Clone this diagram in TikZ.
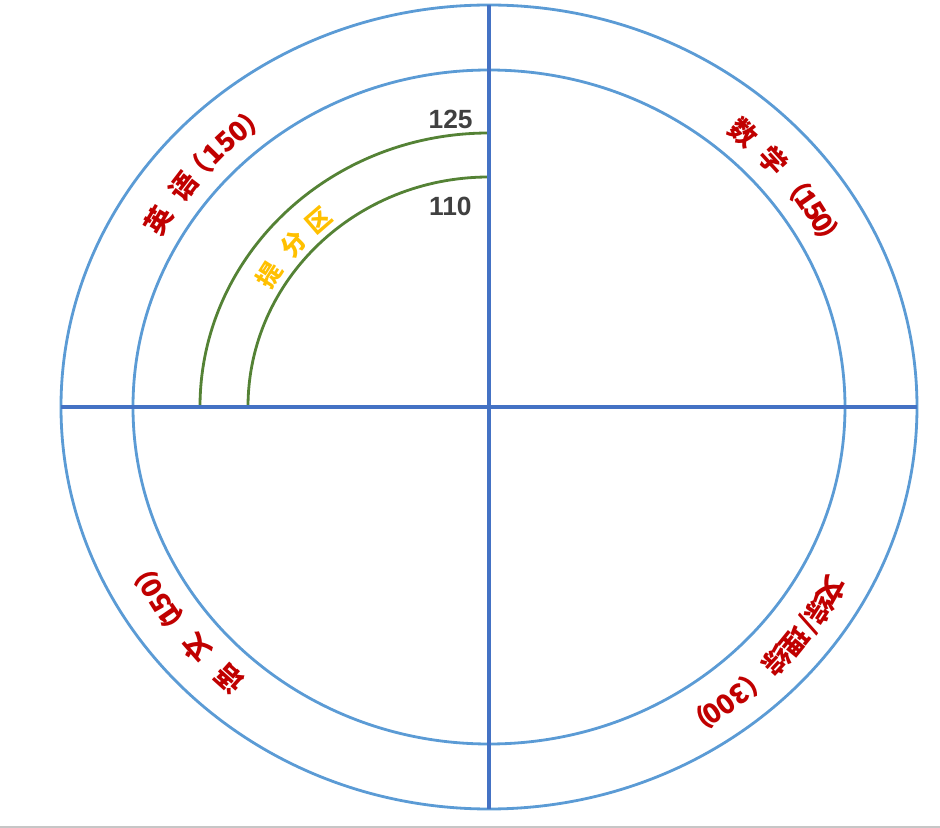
\documentclass[tikz,border=0pt]{standalone}
\usepackage{fontspec}
\newfontfamily\cjk{Noto Sans CJK SC}
\newfontfamily\numfont{Liberation Sans}
\definecolor{ringblue}{RGB}{91,155,213}
\definecolor{axisblue}{RGB}{68,114,196}
\definecolor{arcgreen}{RGB}{84,130,53}
\definecolor{labelred}{RGB}{192,0,0}
\definecolor{zoneorange}{RGB}{255,192,0}
\definecolor{numgray}{RGB}{64,64,64}
\tikzset{
  ring/.style={ringblue,line width=1.6pt},
  axis/.style={axisblue,line width=1.8pt},
  zone/.style={arcgreen,line width=1.6pt},
  subject/.style={labelred,inner sep=0pt,font=\cjk\bfseries\fontsize{15.5}{17}\selectfont},
  zonetext/.style={zoneorange,inner sep=0pt,font=\cjk\bfseries\fontsize{14}{16}\selectfont},
  score/.style={numgray,inner sep=0pt,font=\numfont\bfseries\fontsize{15}{17}\selectfont}
}
\begin{document}
\begin{tikzpicture}[x=0.02cm,y=0.02cm]
  \useasboundingbox (-489,-421) rectangle (451,407);
  % Rings
  \draw [ring] (0,0) ellipse [x radius=428,y radius=402];
  \draw [ring] (0,0) ellipse [x radius=356,y radius=337];

  % Zone arcs
  \draw [zone] (-289,0) arc [start angle=180,end angle=90,x radius=289,y radius=274];
  \draw [zone] (-241,0) arc [start angle=180,end angle=90,x radius=241,y radius=230];

  % Axis
  \coordinate (W) at (-428,0);
  \coordinate (E) at (428,0);
  \coordinate (N) at (0,402);
  \coordinate (S) at (0,-402);
  \draw [axis] (W) -- (E);
  \draw [axis] (N) -- (S);

  % Scores
  \node [score,anchor=east] (s125) at (-16,288) {125};
  \node [score,anchor=east] (s110) at (-17,201) {110};

  % Subjects
  \foreach \ch/\ang [count=\i] in {英/149.1,语/142.5,（/139.3,1/135.7,5/133.1,0/130.7,）/127.5}
    \node [subject,rotate=\ang-90] (en\i) at (\ang:385 and 363) {\ch};
  \foreach \ch/\ang [count=\i] in {数/48.8,学/42.5,（/37.5,1/34.7,5/32.4,0/30.3,）/27.7}
    \node [subject,rotate=\ang-90] (ma\i) at (\ang:386 and 365) {\ch};
  \foreach \ch/\ang [count=\i] in {语/228.0,文/221.2,（/216.7,1/214.4,5/212.3,0/209.7,）/206.6}
    \node [subject,rotate=\ang-90] (cn\i) at (\ang:388 and 366) {\ch};
  \foreach \ch/\ang [count=\i] in {文/330.5,综/327.0,{/}/324.2,理/321.0,综/317.0,（/312.6,3/309.4,0/306.9,0/304.5,）/302.0}
    \node [subject,rotate=\ang-90] (zh\i) at (\ang:394 and 372) {\ch};

  % Zone label
  \foreach \ch/\ang [count=\i] in {提/147.6,分/138.7,区/130.9}
    \node [zonetext,rotate=\ang-90] (up\i) at (\ang:260 and 247) {\ch};

  % Page edge
  \draw [gray!45,line width=0.8pt] (-489,-420) -- (451,-420);
\end{tikzpicture}
\end{document}
